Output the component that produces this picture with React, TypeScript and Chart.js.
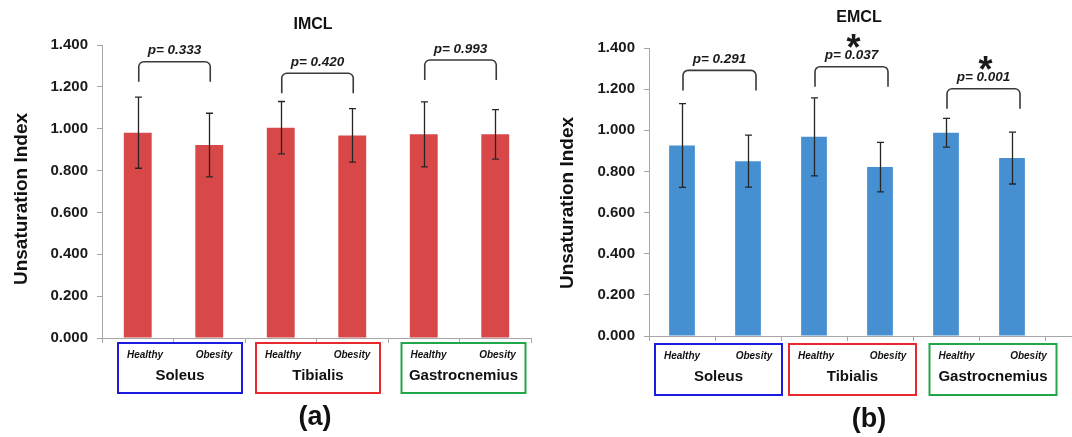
import React, { useEffect, useRef } from "react";
import { Chart, registerables } from "chart.js";

Chart.register(...registerables);

// ---------- data ----------
const categories = [
  "Soleus Healthy",
  "Soleus Obesity",
  "Tibialis Healthy",
  "Tibialis Obesity",
  "Gastrocnemius Healthy",
  "Gastrocnemius Obesity",
];
const groupLabels = ["Healthy", "Obesity"];
const muscles = ["Soleus", "Tibialis", "Gastrocnemius"];
const yTickValues = [0, 0.2, 0.4, 0.6, 0.8, 1.0, 1.2, 1.4];

const imclMeans = [0.981, 0.922, 1.005, 0.968, 0.973, 0.973];
const imclErrors = [0.17, 0.152, 0.125, 0.128, 0.155, 0.118];
const imclPValues = ["0.333", "0.420", "0.993"];
const imclSignificant = [false, false, false];
const imclBracketTop = [1.32, 1.265, 1.328];

const emclMeans = [0.926, 0.85, 0.968, 0.821, 0.988, 0.865];
const emclErrors = [0.204, 0.126, 0.19, 0.12, 0.07, 0.126];
const emclPValues = ["0.291", "0.037", "0.001"];
const emclSignificant = [false, true, true];
const emclBracketTop = [1.291, 1.309, 1.202];

// ---------- styles / layout ----------
const FONT = "'Liberation Sans', Arial, Helvetica, sans-serif";
const W = 536;
const H = 437;
const boxColors = ["#1c1ce0", "#e62a2e", "#22a64a"];

type Panel = {
  key: string;
  title: string;
  letter: string;
  means: number[];
  errors: number[];
  pValues: string[];
  significant: boolean[];
  bracketTop: number[];
  color: string;
  left: number;
  axisX: number;
  plotRight: number;
  plotTop: number;
  plotBottom: number;
  titlePos: [number, number];
  letterPos: [number, number];
  yTitlePos: [number, number];
  boxWidth: number;
  boxShift: number[];
  boxTop: number;
  boxBottom: number;
  smallTextY: number;
  muscleY: number;
  bracketRightExtra: number;
  extendAxis: boolean;
};

const panels: Panel[] = [
  {
    key: "imcl",
    title: "IMCL",
    letter: "(a)",
    means: imclMeans,
    errors: imclErrors,
    pValues: imclPValues,
    significant: imclSignificant,
    bracketTop: imclBracketTop,
    color: "#d84848",
    left: 0,
    axisX: 102,
    plotRight: 531,
    plotTop: 45,
    plotBottom: 338,
    titlePos: [313, 25],
    letterPos: [315, 418],
    yTitlePos: [21.5, 199],
    boxWidth: 124,
    boxShift: [6.5, 1.5, 4],
    boxTop: 343,
    boxBottom: 393,
    smallTextY: 355,
    muscleY: 376,
    bracketRightExtra: 1,
    extendAxis: false,
  },
  {
    key: "emcl",
    title: "EMCL",
    letter: "(b)",
    means: emclMeans,
    errors: emclErrors,
    pValues: emclPValues,
    significant: emclSignificant,
    bracketTop: emclBracketTop,
    color: "#4690d2",
    left: 536,
    axisX: 113,
    plotRight: 509,
    plotTop: 48,
    plotBottom: 336,
    titlePos: [323, 18],
    letterPos: [333, 420],
    yTitlePos: [32, 203],
    boxWidth: 127,
    boxShift: [3.5, 5.5, 14],
    boxTop: 344,
    boxBottom: 395,
    smallTextY: 356,
    muscleY: 377,
    bracketRightExtra: 8,
    extendAxis: true,
  },
];

function makeAnnotations(p: Panel) {
  return {
    id: "annotations-" + p.key,
    afterDatasetsDraw(chart: any) {
      const ctx: CanvasRenderingContext2D = chart.ctx;
      const xs = chart.scales.x;
      const ys = chart.scales.y;
      ctx.save();

      // error bars
      ctx.strokeStyle = "#262626";
      ctx.lineWidth = 1.3;
      p.means.forEach((m, i) => {
        const cx = Math.round(xs.getPixelForValue(i)) + 0.5;
        const top = ys.getPixelForValue(m + p.errors[i]);
        const bot = ys.getPixelForValue(m - p.errors[i]);
        ctx.beginPath();
        ctx.moveTo(cx, top);
        ctx.lineTo(cx, bot);
        ctx.moveTo(cx - 3.5, top);
        ctx.lineTo(cx + 3.5, top);
        ctx.moveTo(cx - 3.5, bot);
        ctx.lineTo(cx + 3.5, bot);
        ctx.stroke();
      });

      // brackets, p-values, asterisks
      const drop = 20;
      const r = 5;
      muscles.forEach((_, g) => {
        const x1 = xs.getPixelForValue(g * 2) + 1;
        const x2 = xs.getPixelForValue(g * 2 + 1) + p.bracketRightExtra;
        const yt = ys.getPixelForValue(p.bracketTop[g]);
        ctx.strokeStyle = "#3a3a3a";
        ctx.lineWidth = 1.6;
        ctx.beginPath();
        ctx.moveTo(x1, yt + drop);
        ctx.lineTo(x1, yt + r);
        ctx.arcTo(x1, yt, x1 + r, yt, r);
        ctx.lineTo(x2 - r, yt);
        ctx.arcTo(x2, yt, x2, yt + r, r);
        ctx.lineTo(x2, yt + drop);
        ctx.stroke();

        const cx = (x1 + x2) / 2;
        const ty = yt - 11;
        ctx.fillStyle = "#1a1a1a";
        ctx.font = `italic bold 13.5px ${FONT}`;
        ctx.textAlign = "center";
        ctx.textBaseline = "middle";
        ctx.fillText("p= " + p.pValues[g], cx, ty);

        if (p.significant[g]) {
          const size = 36;
          ctx.font = `bold ${size}px ${FONT}`;
          ctx.textBaseline = "alphabetic";
          ctx.fillText("*", cx + 2, ty - 14 + size * 0.5);
        }
      });
      ctx.restore();
    },
    afterDraw(chart: any) {
      const ctx: CanvasRenderingContext2D = chart.ctx;
      const xs = chart.scales.x;
      const area = chart.chartArea;
      ctx.save();

      if (p.extendAxis) {
        ctx.strokeStyle = "#a6a6a6";
        ctx.lineWidth = 1;
        ctx.beginPath();
        ctx.moveTo(area.right, Math.round(area.bottom) + 0.5);
        ctx.lineTo(W, Math.round(area.bottom) + 0.5);
        ctx.stroke();
      }

      // chart title
      ctx.fillStyle = "#111";
      ctx.textAlign = "center";
      ctx.textBaseline = "middle";
      ctx.font = `bold 16px ${FONT}`;
      ctx.fillText(p.title, p.titlePos[0], p.titlePos[1]);

      // y axis title
      ctx.save();
      ctx.translate(p.yTitlePos[0], p.yTitlePos[1]);
      ctx.rotate(-Math.PI / 2);
      ctx.font = `bold 19px ${FONT}`;
      ctx.fillText("Unsaturation Index", 0, 0);
      ctx.restore();

      // category boxes
      muscles.forEach((name, g) => {
        const c0 = xs.getPixelForValue(g * 2);
        const c1 = xs.getPixelForValue(g * 2 + 1);
        const center = (c0 + c1) / 2 + p.boxShift[g];
        const bl = center - p.boxWidth / 2;
        const br = center + p.boxWidth / 2;
        ctx.strokeStyle = boxColors[g];
        ctx.lineWidth = 2;
        ctx.strokeRect(bl, p.boxTop, br - bl, p.boxBottom - p.boxTop);

        ctx.fillStyle = "#111";
        ctx.font = `italic bold 10px ${FONT}`;
        ctx.textBaseline = "middle";
        ctx.textAlign = "center";
        ctx.fillText(groupLabels[0], bl + 27, p.smallTextY);
        ctx.fillText(groupLabels[1], br - 28, p.smallTextY);
        ctx.font = `bold 15px ${FONT}`;
        ctx.fillText(name, center, p.muscleY);
      });

      // panel letter
      ctx.font = `bold 27px ${FONT}`;
      ctx.fillStyle = "#111";
      ctx.fillText(p.letter, p.letterPos[0], p.letterPos[1]);
      ctx.restore();
    },
  };
}

function makeConfig(p: Panel): any {
  return {
    type: "bar",
    data: {
      labels: categories,
      datasets: [
        {
          data: p.means,
          backgroundColor: p.color,
          borderWidth: 0,
          barPercentage: 0.39,
          categoryPercentage: 1,
        },
      ],
    },
    options: {
      responsive: false,
      animation: false,
      events: [],
      layout: {
        padding: { left: 0, right: W - p.plotRight, top: p.plotTop, bottom: 0 },
      },
      plugins: {
        legend: { display: false },
        tooltip: { enabled: false },
        title: { display: false },
      },
      scales: {
        x: {
          type: "category",
          offset: true,
          grid: {
            display: true,
            offset: true,
            drawOnChartArea: false,
            drawTicks: true,
            tickLength: 5,
            color: "#a6a6a6",
          },
          border: { display: true, color: "#a6a6a6", width: 1 },
          ticks: { display: false },
          afterFit: (scale: any) => {
            scale.height = H - p.plotBottom;
          },
        },
        y: {
          min: 0,
          max: 1.4,
          afterBuildTicks: (scale: any) => {
            scale.ticks = yTickValues.map((v) => ({ value: v }));
          },
          grid: {
            display: true,
            drawOnChartArea: false,
            drawTicks: true,
            tickLength: 5,
            color: "#a6a6a6",
          },
          border: { display: true, color: "#a6a6a6", width: 1 },
          ticks: {
            padding: 9,
            color: "#1a1a1a",
            font: { family: FONT, size: 15, weight: "bold" },
            callback: (v: any) => Number(v).toFixed(3),
          },
          afterFit: (scale: any) => {
            scale.width = p.axisX;
          },
        },
      },
    },
    plugins: [makeAnnotations(p)],
  };
}

function PanelChart({ panel }: { panel: Panel }) {
  const ref = useRef<HTMLCanvasElement | null>(null);
  useEffect(() => {
    if (!ref.current) return;
    const chart = new Chart(ref.current, makeConfig(panel));
    return () => chart.destroy();
  }, [panel]);
  return (
    <canvas
      ref={ref}
      width={W}
      height={H}
      style={{ position: "absolute", left: panel.left, top: 0, width: W, height: H }}
    />
  );
}

export default function App() {
  return (
    <div
      style={{
        position: "absolute",
        left: 0,
        top: 0,
        width: 1072,
        height: 437,
        background: "#ffffff",
        overflow: "hidden",
      }}
    >
      {panels.map((p) => (
        <PanelChart key={p.key} panel={p} />
      ))}
    </div>
  );
}
